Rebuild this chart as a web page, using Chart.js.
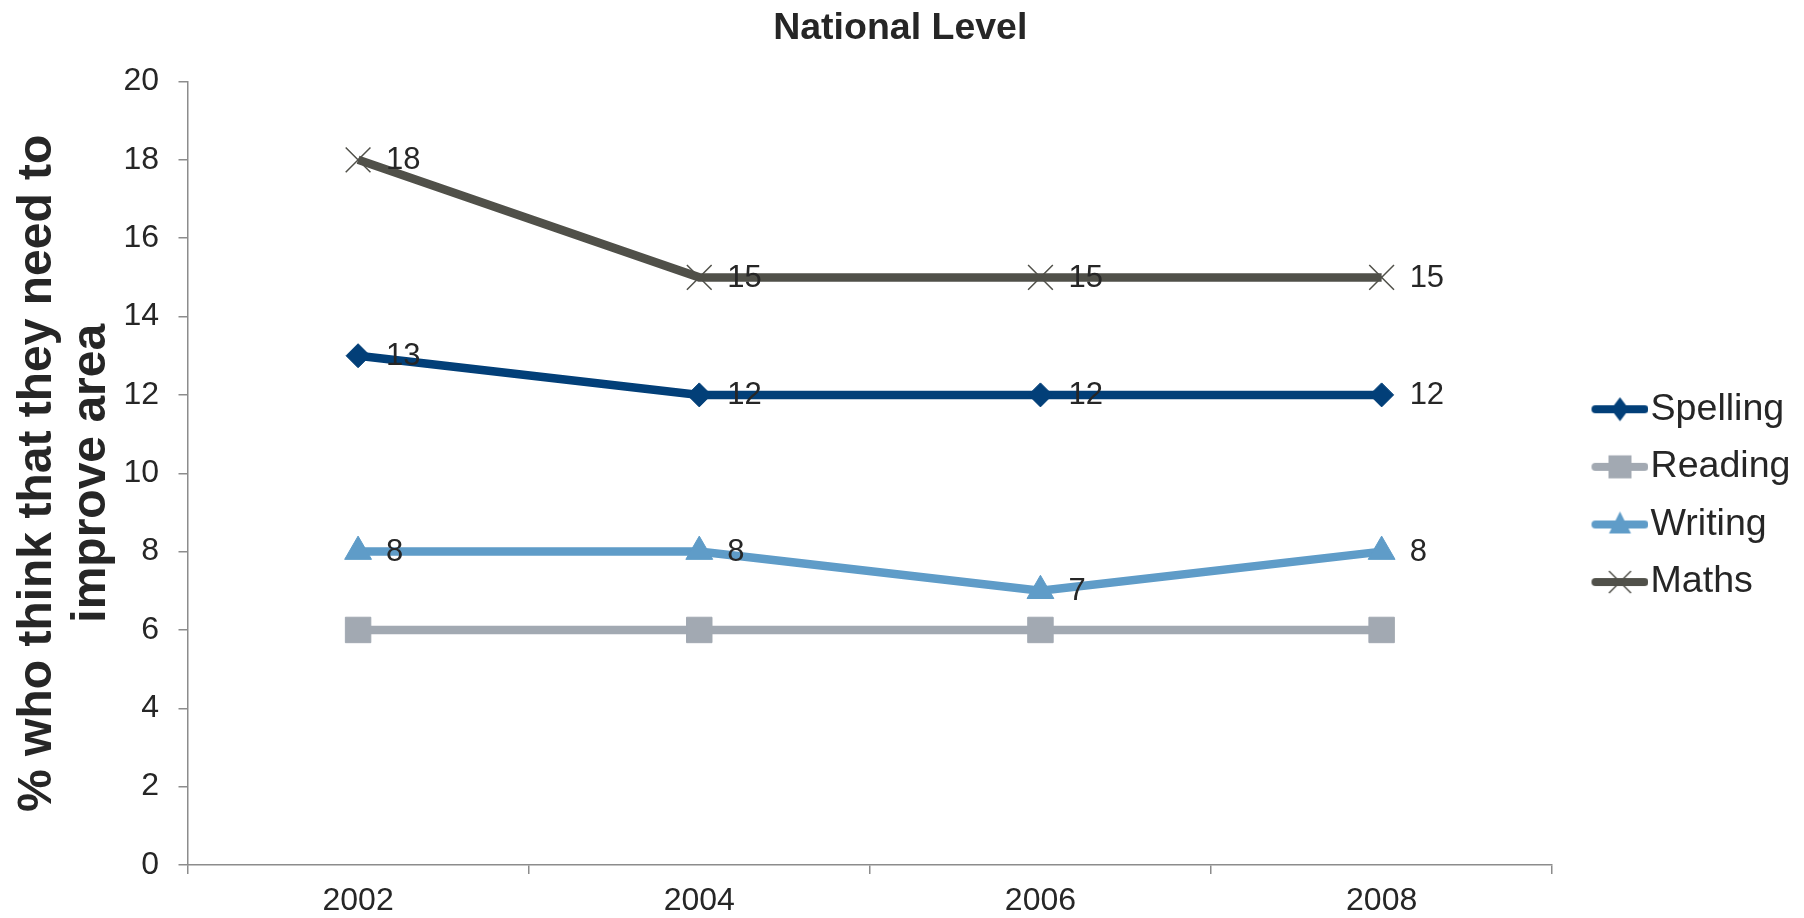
<!DOCTYPE html>
<html>
<head>
<meta charset="utf-8">
<title>National Level</title>
<script src="https://cdn.jsdelivr.net/npm/chart.js@4.4.0/dist/chart.umd.min.js"></script>
<style>
  html, body { margin: 0; padding: 0; background: #fff; }
  canvas { display: block; }
</style>
</head>
<body>
<canvas id="lineChart" width="1804" height="918"></canvas>
<script>
/* ── Données ─────────────────────────────────────────────── */
const years    = ['2002', '2004', '2006', '2008'];
const spelling = [13, 12, 12, 12];
const reading  = [6, 6, 6, 6];
const writing  = [8, 8, 7, 8];
const maths    = [18, 15, 15, 15];

const yMin = 0, yMax = 20, yStep = 2;

const COLORS = {
    spelling: '#023F78',
    reading:  '#A2A9B2',
    writing:  '#5F9CC8',
    maths:    '#505049'
};
const TEXT = '#262626';
const AXIS = '#8C8C8C';
const FONT = '"Liberation Sans", Arial, sans-serif';

Chart.defaults.font.family = FONT;
Chart.defaults.color = TEXT;

/* ── Icônes de légende (trait + marqueur) ────────────────── */
function legendIcon(color, kind) {
    const c = document.createElement('canvas');
    c.width = 93; c.height = 38;
    const g = c.getContext('2d');
    const x0 = 36, x1 = 93, cy = 19, cx = (x0 + x1) / 2;
    g.strokeStyle = color;
    g.lineWidth = 8;
    g.lineCap = 'round';
    g.beginPath(); g.moveTo(x0 + 4, cy); g.lineTo(x1 - 4, cy); g.stroke();
    g.fillStyle = color;
    g.beginPath();
    if (kind === 'diamond') {
        g.moveTo(cx, cy - 12); g.lineTo(cx + 9, cy); g.lineTo(cx, cy + 12); g.lineTo(cx - 9, cy);
        g.closePath(); g.fill();
    } else if (kind === 'square') {
        g.rect(cx - 11.5, cy - 11.5, 23, 23); g.fill();
    } else if (kind === 'triangle') {
        g.moveTo(cx, cy - 13); g.lineTo(cx + 11, cy + 9); g.lineTo(cx - 11, cy + 9);
        g.closePath(); g.fill();
    } else {
        g.lineWidth = 1.5; g.lineCap = 'butt';
        g.moveTo(cx - 11, cy - 11); g.lineTo(cx + 11, cy + 11);
        g.moveTo(cx + 11, cy - 11); g.lineTo(cx - 11, cy + 11);
        g.stroke();
    }
    return c;
}

const legendIcons = [
    legendIcon(COLORS.spelling, 'diamond'),
    legendIcon(COLORS.reading, 'square'),
    legendIcon(COLORS.writing, 'triangle'),
    legendIcon(COLORS.maths, 'cross')
];

/* ── Étiquettes de valeurs à droite des points ──────────── */
const valueLabels = {
    id: 'valueLabels',
    afterDatasetsDraw(chart) {
        const ctx = chart.ctx;
        ctx.save();
        ctx.font = '31px ' + FONT;
        ctx.fillStyle = TEXT;
        ctx.textAlign = 'left';
        ctx.textBaseline = 'middle';
        chart.data.datasets.forEach((ds, i) => {
            if (!ds.showValues) return;
            chart.getDatasetMeta(i).data.forEach((pt, j) => {
                ctx.fillText(String(ds.data[j]), pt.x + 28, pt.y + 1);
            });
        });
        ctx.restore();
    }
};

const ctx = document.getElementById('lineChart').getContext('2d');

const lineChart = new Chart(ctx, {
    type: 'line',
    data: {
        labels: years,
        datasets: [
            {
                label: 'Spelling', data: spelling, showValues: true,
                borderColor: COLORS.spelling, backgroundColor: COLORS.spelling,
                borderWidth: 8.5, pointStyle: 'rectRot', pointRadius: 12,
                pointBorderWidth: 1, pointBorderColor: COLORS.spelling
            },
            {
                label: 'Reading', data: reading, showValues: false,
                borderColor: COLORS.reading, backgroundColor: COLORS.reading,
                borderWidth: 8.5, pointStyle: 'rect', pointRadius: 18,
                pointBorderWidth: 1, pointBorderColor: COLORS.reading
            },
            {
                label: 'Writing', data: writing, showValues: true,
                borderColor: COLORS.writing, backgroundColor: COLORS.writing,
                borderWidth: 8.5, pointStyle: 'triangle', pointRadius: 15.5,
                pointBorderWidth: 1, pointBorderColor: COLORS.writing
            },
            {
                label: 'Maths', data: maths, showValues: true,
                borderColor: COLORS.maths, backgroundColor: COLORS.maths,
                borderWidth: 8.5, pointStyle: 'crossRot', pointRadius: 17.5,
                pointBorderWidth: 1.5, pointBorderColor: COLORS.maths
            }
        ]
    },
    options: {
        responsive: false,
        animation: false,
        devicePixelRatio: 1,
        layout: { padding: { left: 0, right: 3.5, top: 0, bottom: 0 } },
        scales: {
            x: {
                offset: true,
                afterFit(scale) { scale.height = 53; },
                grid: {
                    offset: true, drawOnChartArea: false, drawTicks: true,
                    tickLength: 9, color: AXIS, lineWidth: 1.5
                },
                border: { color: AXIS, width: 1.5 },
                ticks: { color: TEXT, font: { size: 32 }, padding: 8 }
            },
            y: {
                min: yMin, max: yMax,
                afterFit(scale) { scale.width = 187.5; },
                grid: {
                    drawOnChartArea: false, drawTicks: true,
                    tickLength: 9, color: AXIS, lineWidth: 1.5
                },
                border: { color: AXIS, width: 1.5 },
                ticks: { stepSize: yStep, color: TEXT, font: { size: 32 }, padding: 19.5 },
                title: {
                    display: true,
                    text: ['% who think that they need to', 'improve area'],
                    color: TEXT,
                    font: { size: 48, weight: 'bold', lineHeight: 1.12 },
                    padding: { top: 11, bottom: 4 }
                }
            }
        },
        plugins: {
            title: {
                display: true,
                text: 'National Level',
                color: TEXT,
                font: { size: 37.5, weight: 'bold' },
                padding: { top: 6.5, bottom: 30 }
            },
            legend: {
                position: 'right',
                fullSize: false,
                title: { display: true, text: ' ', font: { size: 12 }, padding: 15.2 },
                labels: {
                    usePointStyle: true,
                    pointStyleWidth: 59.5,
                    padding: 20,
                    color: TEXT,
                    font: { size: 37.6 },
                    generateLabels(chart) {
                        const items = Chart.defaults.plugins.legend.labels.generateLabels(chart);
                        items.forEach((it, i) => {
                            it.pointStyle = legendIcons[i];
                            it.fontColor = TEXT;
                        });
                        return items;
                    }
                }
            },
            tooltip: { enabled: false }
        }
    },
    plugins: [valueLabels]
});
</script>
</body>
</html>
